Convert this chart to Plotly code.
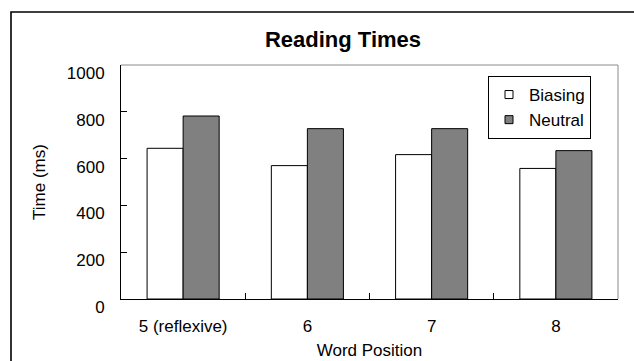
import plotly.graph_objects as go

categories = ["5 (reflexive)", "6", "7", "8"]
biasing = [644, 570, 617, 558]
neutral = [782, 728, 728, 634]
y_ticks = [0, 200, 400, 600, 800, 1000]

FONT = "Arial, 'Liberation Sans', sans-serif"

W, H = 634, 361
L, R, T, B = 121, 16, 65, 62
pw, ph = W - L - R, H - T - B

def px_x(x):
    return (x - L) / pw

def px_y(y):
    return (H - B - y) / ph

fig = go.Figure()
fig.add_trace(go.Bar(x=categories, y=biasing, name="Biasing", showlegend=False,
                     marker=dict(color="white", line=dict(color="black", width=1))))
fig.add_trace(go.Bar(x=categories, y=neutral, name="Neutral", showlegend=False,
                     marker=dict(color="#808080", line=dict(color="black", width=1))))
# legend entries
fig.add_trace(go.Scatter(x=[None], y=[None], mode="markers", name="Biasing", legendgroup="a",
                         marker=dict(symbol="square", size=8, color="white",
                                     line=dict(color="black", width=1))))
fig.add_trace(go.Scatter(x=[None], y=[None], mode="markers", name="Neutral", legendgroup="b",
                         marker=dict(symbol="square", size=8, color="#808080",
                                     line=dict(color="black", width=1))))

fig.update_layout(
    width=W, height=H,
    margin=dict(l=L, r=R, t=T, b=B, autoexpand=False),
    paper_bgcolor="white", plot_bgcolor="white",
    font=dict(family=FONT, size=17, color="black"),
    barmode="group", bargap=0.42, bargroupgap=0,
    title=dict(text="Reading Times", font=dict(family=FONT, size=22, color="black", weight="bold"),
               xref="container", yref="container", x=343 / W, y=1 - 39 / H,
               xanchor="center", yanchor="middle"),
    showlegend=True,
    legend=dict(x=px_x(488), y=px_y(76), xanchor="left", yanchor="top",
                bgcolor="white", bordercolor="black", borderwidth=1,
                font=dict(family=FONT, size=17, color="black"),
                tracegroupgap=0, traceorder="grouped"),
    xaxis=dict(showline=True, linecolor="black", linewidth=1, showgrid=False,
               ticks="inside", tickson="boundaries", ticklen=6, tickcolor="black",
               ticklabelstandoff=12, automargin=False,
               title=dict(text="Word Position", standoff=8, font=dict(size=17))),
    yaxis=dict(range=[0, 1000], tickvals=y_ticks, showline=True, linecolor="black", linewidth=1,
               showgrid=False, zeroline=False, ticks="inside", ticklen=6, tickcolor="black",
               ticklabelstandoff=12, ticklabelshift=8, automargin=False,
               title=dict(text="Time (ms)", standoff=16, font=dict(size=17))),
    shapes=[
        dict(type="line", xref="paper", yref="paper", x0=0, x1=1, y0=1, y1=1,
             line=dict(color="#8a8a8a", width=1)),
        dict(type="line", xref="paper", yref="paper", x0=1, x1=1, y0=0, y1=1,
             line=dict(color="#8a8a8a", width=1)),
        dict(type="rect", xref="paper", yref="paper",
             x0=px_x(11), x1=px_x(645), y0=px_y(375), y1=px_y(12),
             line=dict(color="black", width=1.6), fillcolor="rgba(0,0,0,0)"),
    ],
)

fig.write_html("out.html", config={"displayModeBar": False},
               post_script="document.body.style.margin='0px';document.body.style.overflow='hidden';")
